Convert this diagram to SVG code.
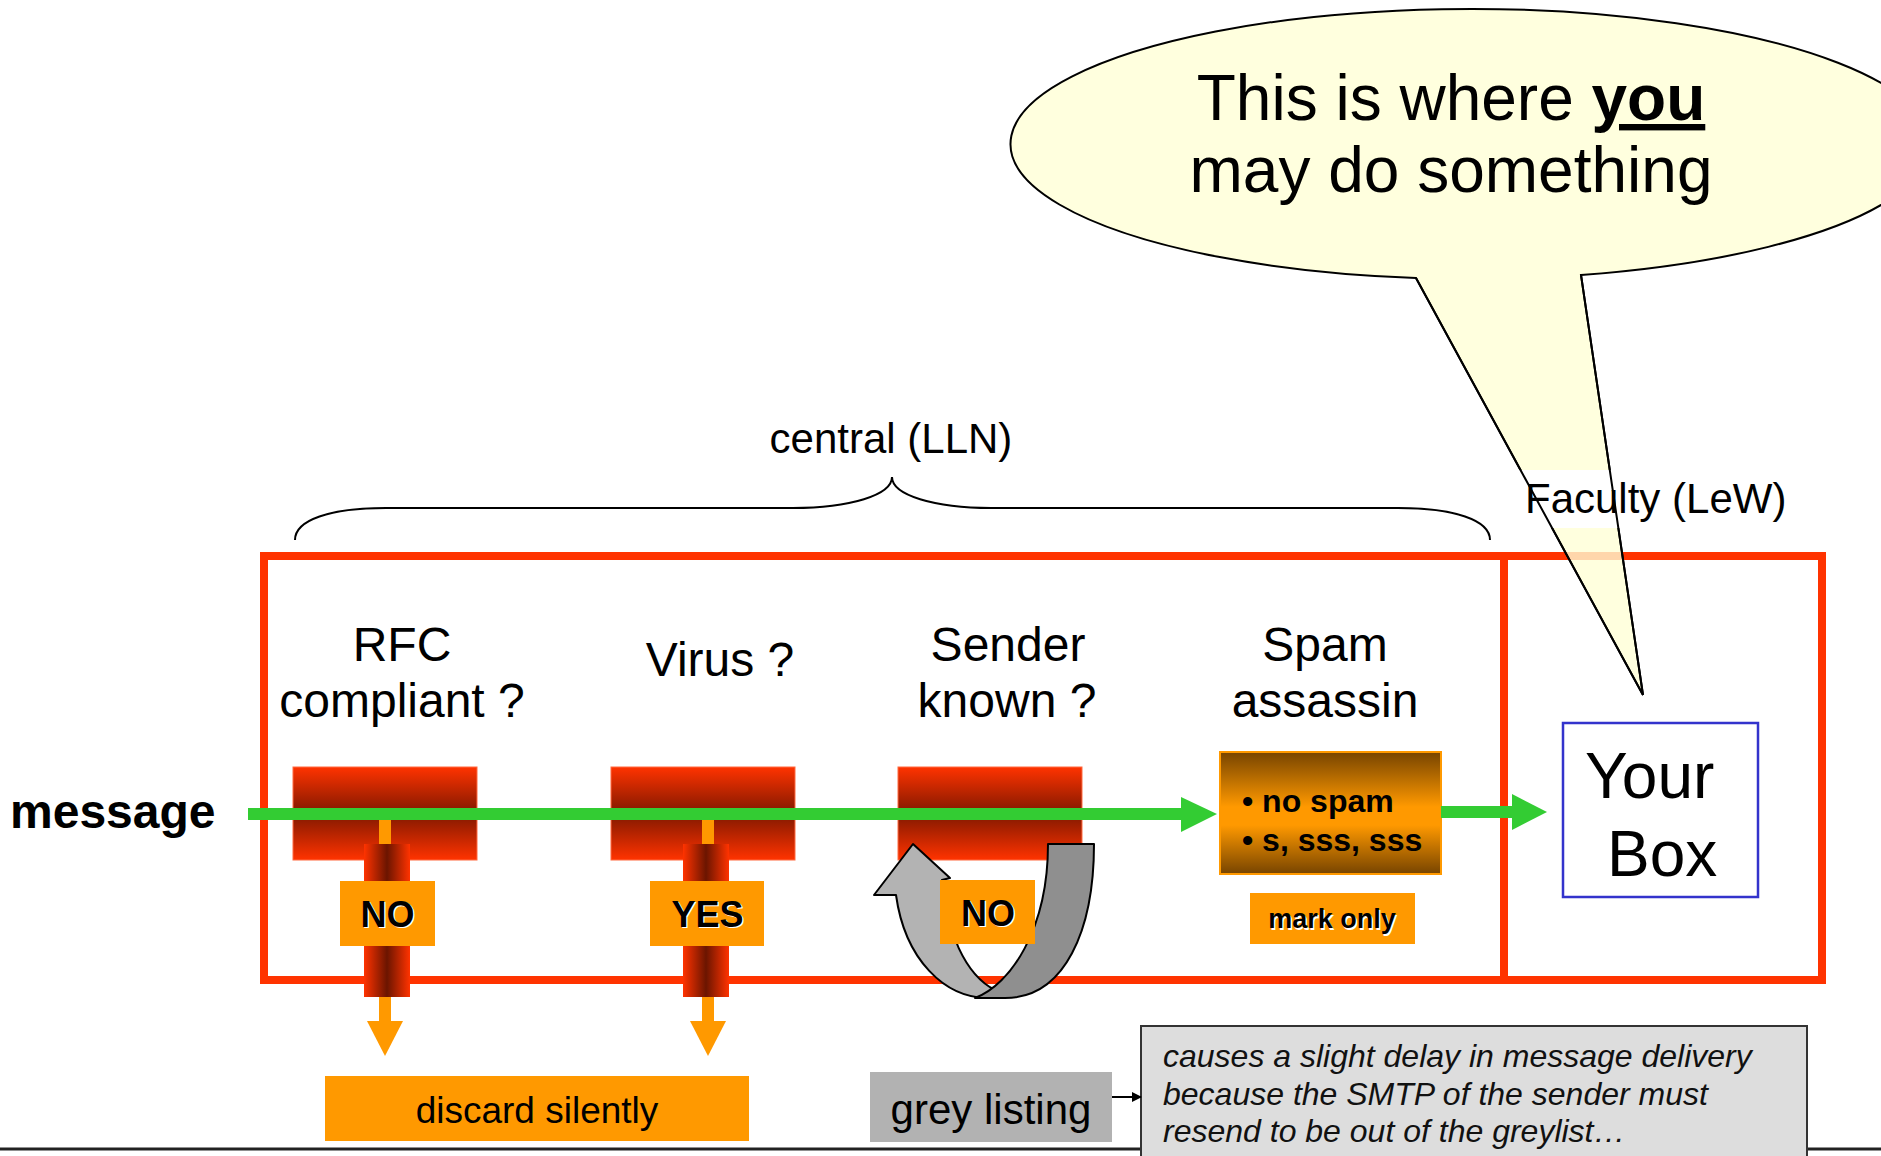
<svg xmlns="http://www.w3.org/2000/svg" width="1881" height="1156" viewBox="0 0 1881 1156">
<style>
text { font-family: "Liberation Sans", Arial, sans-serif; fill: #000; }
.frame { fill: none; stroke: #FF3300; stroke-width: 8; }
.block { fill: url(#blockGrad); stroke: #FF6A40; stroke-width: 1; }
.pipe { fill: url(#pipeGrad); }
.orange { fill: #FF9900; }
.green { fill: #33CC33; }
.title { font-size: 48px; text-anchor: middle; }
.lbl { font-size: 36px; font-weight: bold; text-anchor: middle; }
.sh { fill: #FFFFFF; }
.note { font-size: 32px; font-style: italic; fill: #111; }
</style>
<defs>
  <linearGradient id="blockGrad" x1="0" y1="0" x2="0" y2="1">
    <stop offset="0" stop-color="#FF3300"/>
    <stop offset="0.5" stop-color="#7F1800"/>
    <stop offset="1" stop-color="#FF3300"/>
  </linearGradient>
  <linearGradient id="pipeGrad" x1="0" y1="0" x2="1" y2="0">
    <stop offset="0" stop-color="#FF3300"/>
    <stop offset="0.5" stop-color="#6B1500"/>
    <stop offset="1" stop-color="#FF3300"/>
  </linearGradient>
  <linearGradient id="spamGrad" x1="0" y1="0" x2="0" y2="1">
    <stop offset="0" stop-color="#774400"/>
    <stop offset="0.45" stop-color="#FF9900"/>
    <stop offset="0.6" stop-color="#FF9900"/>
    <stop offset="1" stop-color="#774400"/>
  </linearGradient>
  <marker id="blackArrow" markerWidth="10" markerHeight="10" refX="9" refY="5" orient="auto" markerUnits="userSpaceOnUse">
    <path d="M0,0 L10,5 L0,10 Z" fill="#000"/>
  </marker>
</defs>

<!-- slide bottom rule -->
<line x1="0" y1="1149" x2="1881" y2="1149" stroke="#222" stroke-width="3"/>

<!-- frames -->
<g id="frames">
  <rect class="frame" x="264" y="556" width="1240" height="424"/>
  <rect class="frame" x="1504" y="556" width="318" height="424"/>
</g>

<g id="central-label">
  <path d="M295,540 C295,520 330,508 386,508 L793,508 C850,508 892,495 892,477 C892,495 934,508 991,508 L1398,508 C1454,508 1490,520 1490,540" fill="none" stroke="#000" stroke-width="2"/>
  <text x="891" y="453" font-size="42" text-anchor="middle">central (LLN)</text>
</g>

<g id="message-label">
  <text x="10" y="828" font-size="48" font-weight="bold">message</text>
</g>

<g id="filter-rfc">
  <text class="title" x="402" y="661">RFC</text>
  <text class="title" x="402" y="717">compliant ?</text>
  <rect class="block" x="293" y="767" width="184" height="93"/>
  <rect class="orange" x="379" y="814" width="12" height="30"/>
  <rect class="pipe" x="364" y="844" width="46" height="153"/>
  <rect class="orange" x="340" y="881" width="95" height="65"/>
  <text class="lbl sh" x="389" y="928">NO</text>
  <text class="lbl" x="387.5" y="926.5">NO</text>
</g>

<g id="filter-virus">
  <text class="title" x="720" y="676">Virus ?</text>
  <rect class="block" x="611" y="767" width="184" height="93"/>
  <rect class="orange" x="702" y="814" width="12" height="30"/>
  <rect class="pipe" x="683" y="844" width="46" height="153"/>
  <rect class="orange" x="650" y="881" width="114" height="65"/>
  <text class="lbl sh" x="709" y="928">YES</text>
  <text class="lbl" x="707.5" y="926.5">YES</text>
</g>

<g id="filter-sender">
  <text class="title" x="1008" y="661">Sender</text>
  <text class="title" x="1007" y="717">known ?</text>
  <rect class="block" x="898" y="767" width="184" height="93"/>
  <path d="M874,895 L913,844 L950,878 L942,880 C946,930 965,975 995,990 L988,998 C945,998 905,960 896,895 Z" fill="#B3B3B3" stroke="#000" stroke-width="2" stroke-linejoin="round"/>
  <path d="M1048,844 L1094,844 C1094,930 1065,998 1005,998 L975,998 C1010,985 1048,930 1048,844 Z" fill="#8F8F8F" stroke="#000" stroke-width="2" stroke-linejoin="round"/>
  <rect class="orange" x="940" y="880" width="95" height="64"/>
  <text class="lbl sh" x="989.5" y="927">NO</text>
  <text class="lbl" x="988" y="925.5">NO</text>
</g>

<g id="spam-assassin">
  <text class="title" x="1325" y="661">Spam</text>
  <text class="title" x="1325" y="717">assassin</text>
  <rect x="1220" y="752" width="221" height="122" fill="url(#spamGrad)" stroke="#FF9900" stroke-width="2"/>
  <text x="1242" y="812" font-size="32" font-weight="bold">• no spam</text>
  <text x="1242" y="851" font-size="32" font-weight="bold">• s, sss, sss</text>
</g>

<g id="mark-only">
  <rect class="orange" x="1250" y="893" width="165" height="51"/>
  <text x="1333.5" y="929.5" font-size="27" font-weight="bold" text-anchor="middle" class="sh">mark only</text>
  <text x="1332" y="928" font-size="27" font-weight="bold" text-anchor="middle">mark only</text>
</g>

<g id="your-box">
  <rect x="1563" y="723" width="195" height="174" fill="#FFFFFF" stroke="#3333CC" stroke-width="2.5"/>
  <text x="1585" y="798" font-size="64">Your</text>
  <text x="1607" y="876" font-size="64">Box</text>
</g>

<g id="discard">
  <rect class="orange" x="325" y="1076" width="424" height="65"/>
  <text x="537" y="1123" font-size="37" text-anchor="middle">discard silently</text>
</g>

<g id="grey-listing">
  <rect x="870" y="1072" width="242" height="70" fill="#B2B2B2"/>
  <text x="991" y="1124" font-size="42" text-anchor="middle" fill="#111">grey listing</text>
</g>

<g id="grey-note">
  <rect x="1141" y="1026" width="666" height="140" fill="#DDDDDD" stroke="#333" stroke-width="2"/>
  <text class="note" x="1163" y="1067">causes a slight delay in message delivery</text>
  <text class="note" x="1163" y="1105">because the SMTP of the sender must</text>
  <text class="note" x="1163" y="1142">resend to be out of the greylist…</text>
</g>

<g id="connectors">
  <!-- main green flow -->
  <rect class="green" x="248" y="808" width="934" height="12"/>
  <path class="green" d="M1181,797 L1217,814 L1181,832 Z"/>
  <!-- spam assassin to Your Box -->
  <rect class="green" x="1441" y="806" width="72" height="12"/>
  <path class="green" d="M1512,794 L1547,812 L1512,830 Z"/>
  <!-- discard arrows -->
  <rect class="orange" x="379" y="997" width="12" height="26"/>
  <path class="orange" d="M367,1021 L403,1021 L385,1056 Z"/>
  <rect class="orange" x="702" y="997" width="12" height="26"/>
  <path class="orange" d="M690,1021 L726,1021 L708,1056 Z"/>
  <!-- grey listing to note -->
  <line x1="1112" y1="1097" x2="1141" y2="1097" stroke="#000" stroke-width="2" marker-end="url(#blackArrow)"/>
</g>

<g id="speech-bubble">
  <path d="M1416,278 A460,135 0 1,1 1581,275 L1643,695 Z" fill="#FFFFD6" fill-opacity="0.8" stroke="#000" stroke-width="2" stroke-linejoin="miter"/>
  <rect x="1517" y="470" width="104" height="58" fill="#FFFFFF"/>
  <text x="1451" y="120" font-size="64" text-anchor="middle">This is where <tspan font-weight="bold" text-decoration="underline">you</tspan></text>
  <text x="1451" y="192" font-size="64" text-anchor="middle">may do something</text>
</g>

<g id="faculty-label">
  <text x="1525" y="513" font-size="42">Faculty (LeW)</text>
</g>
<g id="bubble-tail-outline">
  <path d="M1416,278 L1643,695 L1581,275" fill="none" stroke="#000" stroke-width="2"/>
</g>
</svg>
